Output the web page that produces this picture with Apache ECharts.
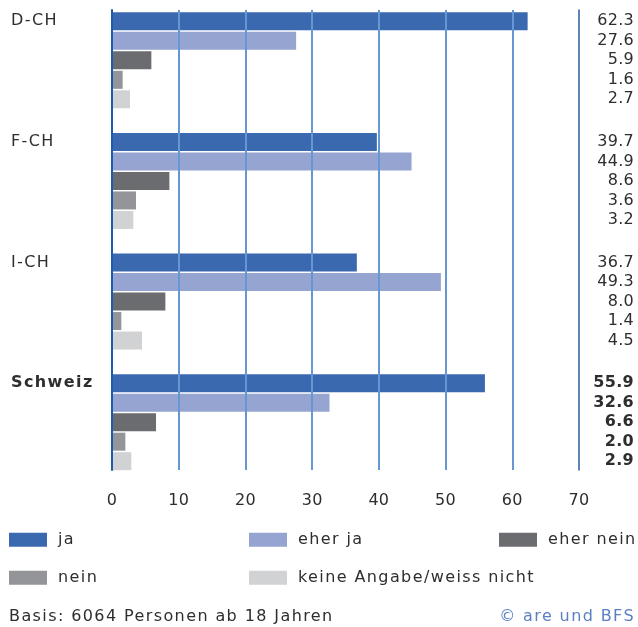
<!DOCTYPE html>
<html>
<head>
<meta charset="utf-8">
<script src="https://cdn.jsdelivr.net/npm/echarts@6/dist/echarts.min.js"></script>
<style>
  html, body { margin: 0; padding: 0; background: #fff; }
  #chart { width: 638px; height: 627px; }
</style>
</head>
<body>
<div id="chart"></div>
<script>
// ---- data ----
const categories = ['D-CH', 'F-CH', 'I-CH', 'Schweiz'];
const seriesNames = ['ja', 'eher ja', 'eher nein', 'nein', 'keine Angabe/weiss nicht'];
const ja = [62.3, 39.7, 36.7, 55.9];
const eherJa = [27.6, 44.9, 49.3, 32.6];
const eherNein = [5.9, 8.6, 8.0, 6.6];
const nein = [1.6, 3.6, 1.4, 2.0];
const keineAngabe = [2.7, 3.2, 4.5, 2.9];
const xMin = 0, xMax = 70, xStep = 10;
const footerLeft = 'Basis: 6064 Personen ab 18 Jahren';
const footerRight = '© are und BFS';

const seriesValues = [ja, eherJa, eherNein, nein, keineAngabe];
const colors = ['#3b69b0', '#95a4d0', '#6b6c70', '#949598', '#d1d2d4'];
const boldIndex = categories.indexOf('Schweiz');

// emulate the tracked lettering of the original typeface (drawing and measuring)
(function () {
  const proto = CanvasRenderingContext2D.prototype;
  if (!('letterSpacing' in proto)) return;
  const spacingFor = t => /^[\d.\s]+$/.test(String(t)) ? '0.3px' : '1.4px';
  const origFill = proto.fillText;
  proto.fillText = function (t, x, y, w) {
    const prev = this.letterSpacing;
    this.letterSpacing = spacingFor(t);
    if (w === undefined) origFill.call(this, t, x, y); else origFill.call(this, t, x, y, w);
    this.letterSpacing = prev;
  };
  const origMeasure = proto.measureText;
  proto.measureText = function (t) {
    const prev = this.letterSpacing;
    this.letterSpacing = spacingFor(t);
    const m = origMeasure.call(this, t);
    this.letterSpacing = prev;
    return m;
  };
})();

const FONT = 'DejaVu Sans';
const TXT = '#2e2e2e';

const series = [];
seriesValues.forEach((vals, i) => {
  series.push({
    name: seriesNames[i],
    type: 'bar',
    xAxisIndex: 0, yAxisIndex: 0,
    stack: 's' + i,
    barWidth: 18,
    barGap: '8.3%',
    data: vals,
    itemStyle: { color: colors[i] },
    emphasis: { disabled: true },
    silent: true
  });
  series.push({
    name: '_fill' + i,
    type: 'bar',
    xAxisIndex: 0, yAxisIndex: 0,
    stack: 's' + i,
    barWidth: 18,
    barGap: '8.3%',
    data: vals.map(v => xMax - v),
    itemStyle: { color: 'rgba(0,0,0,0)' },
    emphasis: { disabled: true },
    silent: true,
    label: {
      show: true,
      position: 'insideRight',
      distance: 0,
      offset: [55, 0],
      formatter: p => {
        const t = vals[p.dataIndex].toFixed(1);
        return p.dataIndex === boldIndex ? '{b|' + t + '}' : '{n|' + t + '}';
      },
      rich: {
        n: { fontFamily: FONT, fontSize: 16, color: TXT },
        b: { fontFamily: FONT, fontSize: 16, color: TXT, fontWeight: 'bold' }
      }
    }
  });
});

const legendPos = [
  { left: 9, top: 531 },
  { left: 249, top: 531 },
  { left: 499, top: 531 },
  { left: 9, top: 569 },
  { left: 249, top: 569 }
];
const legends = seriesNames.map((n, i) => ({
  show: true,
  left: legendPos[i].left,
  top: legendPos[i].top,
  padding: 0,
  data: [n],
  icon: 'rect',
  itemWidth: 38,
  itemHeight: 14,
  selectedMode: false,
  textStyle: { fontFamily: FONT, fontSize: 16, color: TXT, padding: [0, 0, 0, 6] }
}));

const option = {
  animation: false,
  backgroundColor: '#fff',
  textStyle: { fontFamily: FONT },
  title: [
    { text: footerLeft, left: 9, top: 608, padding: 0,
      textStyle: { fontFamily: FONT, fontSize: 16, fontWeight: 'normal', color: TXT } },
    { text: footerRight, right: 3, top: 608, padding: 0,
      textStyle: { fontFamily: FONT, fontSize: 16, fontWeight: 'normal', color: '#5b7fc3' } }
  ],
  legend: legends,
  grid: [
    { left: 112, right: 59, top: -1.5, height: 484, containLabel: false },
    { left: 112, right: 59, top: 10, height: 460, containLabel: false }
  ],
  xAxis: [
    { gridIndex: 0, type: 'value', min: xMin, max: xMax, show: false },
    {
      gridIndex: 1, type: 'value', min: xMin, max: xMax, interval: xStep, z: 5,
      axisLine: { show: false }, axisTick: { show: false },
      axisLabel: { fontFamily: FONT, fontSize: 16, color: TXT, margin: 22 },
      splitLine: { show: true, showMinLine: false, showMaxLine: false,
        lineStyle: { color: '#6598d2', width: 2 } }
    }
  ],
  yAxis: [
    {
      gridIndex: 0, type: 'category', data: categories, inverse: true,
      axisLine: { show: false }, axisTick: { show: false }, splitLine: { show: false },
      axisLabel: {
        align: 'left', margin: 101, padding: [0, 0, 78, 0],
        formatter: (v, i) => i === boldIndex ? '{b|' + v + '}' : '{n|' + v + '}',
        rich: {
          n: { fontFamily: FONT, fontSize: 16, color: TXT },
          b: { fontFamily: FONT, fontSize: 16, color: TXT, fontWeight: 'bold' }
        }
      }
    },
    {
      gridIndex: 1, type: 'value', min: 0, max: 1, position: 'left', z: 6,
      axisLine: { show: true, onZero: false, lineStyle: { color: '#1b5cae', width: 2 } },
      axisTick: { show: false }, axisLabel: { show: false }, splitLine: { show: false }
    },
    {
      gridIndex: 1, type: 'value', min: 0, max: 1, position: 'right', z: 6,
      axisLine: { show: true, onZero: false, lineStyle: { color: '#2a5b9e', width: 1.5 } },
      axisTick: { show: false }, axisLabel: { show: false }, splitLine: { show: false }
    }
  ],
  series: series
};

const chart = echarts.init(document.getElementById('chart'), null, { renderer: 'canvas' });
chart.setOption(option);
</script>
</body>
</html>
